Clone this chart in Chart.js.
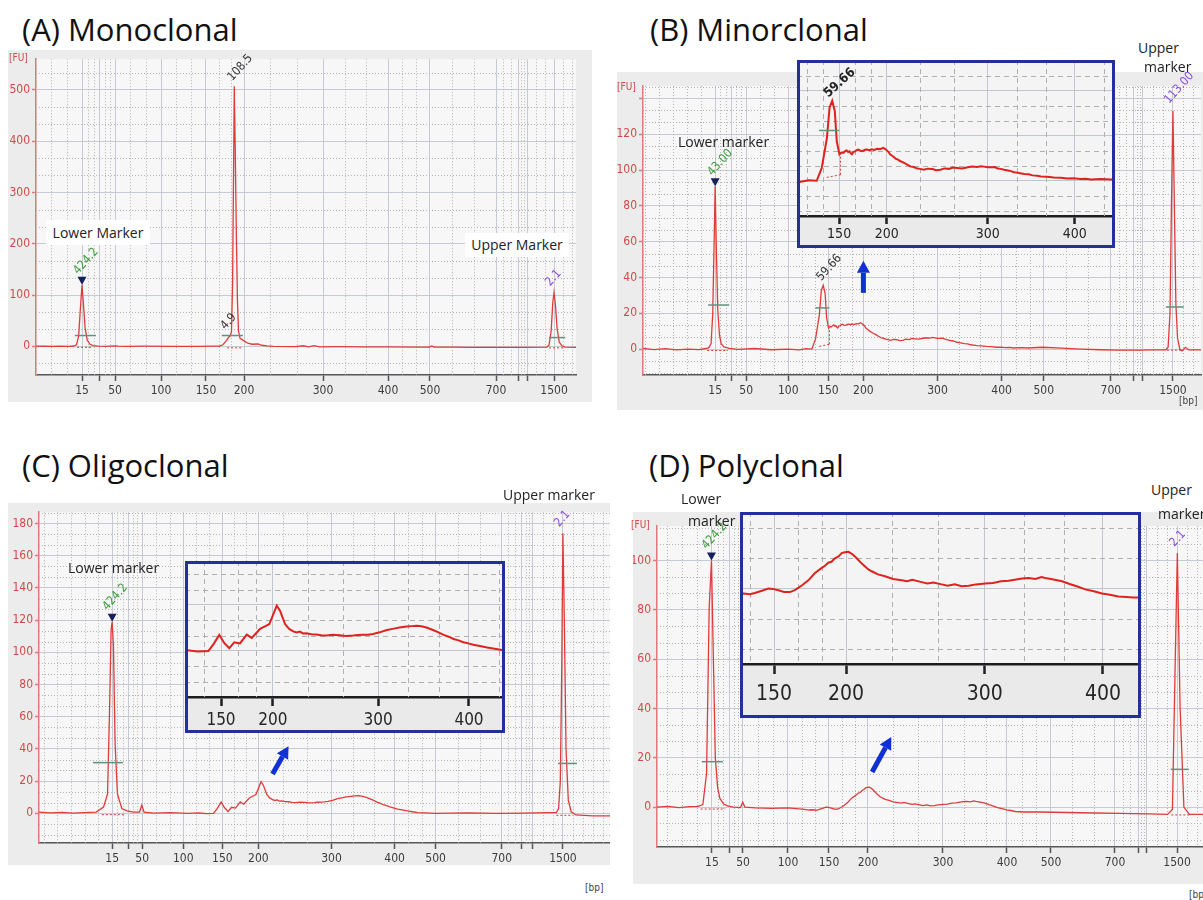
<!DOCTYPE html>
<html>
<head>
<meta charset="utf-8">
<script src="https://cdn.jsdelivr.net/npm/chart.js@4.4.1/dist/chart.umd.min.js"></script>
<style>
  body { margin: 0; background: #fff; width: 1203px; height: 900px; position: relative; overflow: hidden; font-family: 'Open Sans', sans-serif; }
  .frame { position: absolute; background: #ececec; }
  canvas { position: absolute; }
  .title { position: absolute; font-size: 31px; line-height: 31px; color: #111; white-space: nowrap; }
  .note { position: absolute; font-size: 14px; line-height: 16px; color: #222; white-space: nowrap; }
  .box { background: #fff; text-align: center; }
  .unit { position: absolute; font: 10px 'Liberation Sans Narrow', 'DejaVu Sans Condensed', sans-serif; line-height: 10px; white-space: nowrap; }
</style>
</head>
<body>
<div class="frame" style="left:8px;top:50px;width:584px;height:352px"></div>
<div class="frame" style="left:617px;top:72px;width:586px;height:338px"></div>
<div class="frame" style="left:8px;top:503px;width:602px;height:362px"></div>
<div class="frame" style="left:633px;top:512px;width:570px;height:372px"></div>

<canvas id="chartA" width="584" height="352" style="left:8px;top:50px"></canvas>
<canvas id="chartB" width="586" height="338" style="left:617px;top:72px"></canvas>
<canvas id="chartC" width="602" height="362" style="left:8px;top:503px"></canvas>
<canvas id="chartD" width="570" height="372" style="left:633px;top:512px"></canvas>
<canvas id="insetB" width="318" height="188" style="left:797px;top:60px"></canvas>
<canvas id="insetC" width="320" height="172" style="left:185px;top:561px"></canvas>
<canvas id="insetD" width="401" height="206" style="left:740px;top:512px"></canvas>

<div class="title" style="left:22px;top:14px">(A) Monoclonal</div>
<div class="title" style="left:650px;top:14px">(B) Minorclonal</div>
<div class="title" style="left:22px;top:450px">(C) Oligoclonal</div>
<div class="title" style="left:649px;top:450px">(D) Polyclonal</div>

<div class="note box" style="left:46px;top:220px;width:104px;line-height:25px">Lower Marker</div>
<div class="note box" style="left:465px;top:233px;width:104px;line-height:24px">Upper Marker</div>
<div class="note" style="left:678px;top:134px">Lower marker</div>
<div class="note" style="left:1138px;top:40px">Upper</div>
<div class="note" style="left:1144px;top:59px">marker</div>
<div class="note" style="left:68px;top:560px">Lower marker</div>
<div class="note" style="left:503px;top:487px">Upper marker</div>
<div class="note" style="left:681px;top:491px">Lower</div>
<div class="note" style="left:688px;top:513px">marker</div>
<div class="note" style="left:1151px;top:482px">Upper</div>
<div class="note" style="left:1158px;top:506px">marker</div>

<div class="unit" style="left:9px;top:53px;color:#d04a4a">[FU]</div>
<div class="unit" style="left:617px;top:82px;color:#d04a4a">[FU]</div>
<div class="unit" style="left:631px;top:520px;color:#d04a4a">[FU]</div>
<div class="unit" style="left:1179px;top:396px;color:#444">[bp]</div>
<div class="unit" style="left:585px;top:883px;color:#444">[bp]</div>
<div class="unit" style="left:1189px;top:890px;color:#444">[bp]</div>

<script>
// DNA 1000 ladder sizes and their migration times (s) in each run
const ladderBp = [15, 25, 50, 100, 150, 200, 300, 400, 500, 700, 850, 1000, 1500];
const hiddenBp = [25, 850, 1000];
const insetBp = [150, 200, 300, 400];
const ladderTimeA = [8.52, 11.85, 14.63, 23.15, 31.48, 38.52, 53.15, 65.19, 72.96, 85.19, 89.26, 90.93, 95.93];
const ladderTimeB = [12.93, 15.80, 18.49, 26.03, 33.21, 39.50, 52.78, 64.27, 71.81, 83.84, 87.97, 89.59, 94.97];
const ladderTimeC = [12.81, 15.61, 18.07, 25.26, 32.11, 38.42, 51.23, 62.28, 69.47, 81.05, 84.56, 86.49, 91.75];
const ladderTimeD = [10.07, 13.19, 15.75, 23.99, 31.50, 38.64, 52.38, 64.10, 72.16, 83.88, 88.10, 89.74, 95.24];

const fuTicksA = [0, 100, 200, 300, 400, 500];
const fuTicksB = [0, 20, 40, 60, 80, 100, 120, 140];
const fuTicksC = [0, 20, 40, 60, 80, 100, 120, 140, 160, 180];
const fuTicksD = [0, 20, 40, 60, 80, 100];

// traces: [time (s), fluorescence (FU)]
const traceA = [[0,0.5],[1.5,0.1],[3,-0.3],[4.5,0.4],[6,0],[7,0.6],[7.5,3],[7.9,20],[8.2,70],[8.52,120],[8.8,80],[9.1,35],[9.5,12],[10,4],[10.6,1.5],[11.5,0.5],[13,0],[14.6,1],[15.2,0.2],[17,0],[20,0.3],[25,-0.3],[30,0],[33,0.2],[34,0.4],[34.6,3],[35.2,10],[35.7,18],[35.95,20],[36.2,28],[36.4,120],[36.55,300],[36.72,507],[36.9,380],[37.1,220],[37.3,90],[37.5,30],[37.8,15],[38.2,13],[38.6,10],[39.2,6],[40,4],[41.1,4.5],[41.8,2],[42.8,0.8],[44,0],[48,-0.5],[49.5,1],[50.5,-1],[51.5,1.2],[52.5,-1],[56,-0.8],[60,-1],[65,-1.2],[70,-1.5],[72.9,-1.5],[73.3,0.5],[73.7,-1.5],[77.5,-1.8],[80,-2],[85,-2],[90,-2],[94.6,-1.5],[95,2],[95.4,30],[95.7,85],[95.93,105],[96.2,80],[96.5,35],[96.9,8],[97.4,1],[98,-1.5],[100,-2]];

const traceB = [[0,0.4],[2,-0.3],[4,0.2],[6,-0.5],[8,0],[10,-0.3],[11.3,0.3],[11.8,0.8],[12.2,3],[12.5,20],[12.75,60],[12.93,91],[13.15,55],[13.4,22],[13.7,8],[14,3],[14.5,1.2],[15.5,0.4],[17,-0.2],[20,0.3],[23,-0.4],[26,0],[28,-0.5],[29.2,0.2],[30.26,0],[30.92,5.7],[31.6,19],[31.95,32.6],[32.3,35.6],[32.64,31],[32.9,17.6],[33.25,11.7],[33.5,12.6],[33.78,12.4],[34,13.2],[34.2,13.5],[34.4,12.8],[34.57,13.1],[34.75,12.2],[34.9,11.8],[35.1,12.9],[35.3,13],[35.5,13.6],[35.76,13.9],[36,13.4],[36.3,13.2],[36.6,13.8],[36.87,13.9],[37.2,13.6],[37.5,14],[37.85,13.7],[38.2,14.2],[38.6,14.1],[39,14.7],[39.2,14.3],[39.4,13.8],[39.7,12.9],[39.95,11.7],[40.3,10.9],[40.6,10],[40.95,9.4],[41.3,8.7],[41.65,8.2],[42,7.5],[42.3,7],[42.6,6.4],[43,6.1],[43.5,5.5],[43.9,5.3],[44.35,4.9],[44.9,5.4],[45.5,5.2],[46,4.7],[46.56,4.9],[47.1,5.5],[47.7,5.3],[48.2,5.9],[48.77,5.7],[49.4,5.5],[50,5.9],[50.7,6.3],[51.4,6.1],[51.9,6.5],[52.3,6.3],[52.8,6],[53.2,6],[53.7,6.1],[54.1,5.5],[54.5,5.3],[54.95,4.9],[55.6,4.5],[56.3,3.8],[56.9,3.5],[57.6,3],[58.2,2.9],[58.7,2.4],[59.3,2.2],[59.8,1.9],[60.6,1.8],[61.5,1.5],[62.4,1.3],[63.3,1],[64.1,1.1],[65,0.8],[65.7,0.9],[66.4,0.6],[67.7,0.8],[69,0.6],[71.6,1],[75,0.5],[78.6,0],[82,-0.4],[85,-0.6],[88.9,-0.6],[92,-0.5],[93.7,-0.4],[94.1,1],[94.45,20],[94.7,80],[94.97,133],[95.25,75],[95.5,25],[95.8,6],[96.2,0],[96.6,-1],[97.2,1],[97.8,-0.5],[100,-0.5]];

const traceC = [[0,0.8],[2,0.3],[4,0.6],[6,0.2],[8,0.5],[10,0.8],[11.3,3.9],[12,12],[12.35,63],[12.63,114],[12.81,119],[13.04,104],[13.33,43],[13.74,12],[14.5,3],[15.4,1.5],[16.5,0.8],[17.6,0.8],[18,5],[18.4,0.8],[20,0.2],[23,0.5],[26,0],[28,0.3],[29.3,-0.2],[30.57,0],[31.2,3],[31.9,7],[32.5,3.5],[33.12,1.2],[33.73,3.8],[34.42,3.3],[35.24,7.1],[35.85,5.7],[36.4,7.8],[36.86,9.6],[37.4,10.6],[37.99,11.7],[38.48,16],[38.89,19.7],[39.29,17.5],[39.9,11.7],[40.4,9.6],[40.9,8.5],[41.3,8],[41.7,8.4],[42.1,7.6],[42.5,7.7],[43.1,7.3],[43.7,7.2],[44.3,6.8],[44.95,6.7],[45.7,7],[46.5,6.8],[47.3,6.5],[48.2,6.7],[48.8,6.9],[49.4,7],[50,7.1],[50.6,7.4],[51.4,8.1],[52.3,9.1],[53,9.6],[53.8,10.2],[54.7,10.6],[55.3,10.8],[55.9,11],[56.5,10.7],[57.2,10.1],[57.9,9.1],[58.5,8.2],[59.2,7],[59.8,6.2],[60.4,5.2],[61,4.6],[61.6,3.8],[62.2,3.3],[62.8,2.7],[63.6,2.2],[64.5,1.5],[65.4,1],[66.3,0.4],[69.6,0],[75,0.3],[80,0],[85,0.2],[89,0.4],[90.6,0.5],[91,3],[91.3,20],[91.55,90],[91.75,174],[92,120],[92.3,40],[92.7,8],[93.2,1],[94,-1],[97,-1.5],[100,-1.5]];

const traceD = [[0,0],[2,0.3],[4,-0.2],[6,0.2],[7.5,0.3],[8.4,1],[9.08,13.7],[9.56,81],[9.98,100],[10.26,67.7],[10.68,20],[11.1,8],[11.5,3.6],[12.2,1.2],[12.9,0.5],[14,0],[15.3,-0.2],[15.7,2],[16.1,0],[18,-0.3],[21,-0.5],[24,-0.3],[27,-0.9],[27.8,-1.2],[28.5,-1.1],[29.1,-1.3],[29.6,-1],[30.3,-0.5],[30.94,0],[31.4,-0.1],[31.93,-0.4],[32.5,-0.8],[33.09,-0.8],[33.6,-0.3],[34.25,0.65],[34.9,1.8],[35.56,3.4],[36.2,4.5],[36.55,5],[36.88,5.7],[37.2,5.9],[37.5,6.6],[37.9,7.1],[38.21,7.8],[38.5,8],[38.86,8.1],[39.1,7.8],[39.3,7.5],[39.6,6.9],[39.86,6.3],[40.2,5.5],[40.5,4.9],[40.85,4.2],[41.18,3.8],[41.8,3.1],[42.5,2.7],[43.3,2.1],[44.15,1.8],[44.7,1.6],[45.2,1.9],[46.14,1.4],[46.7,1.1],[47.3,1.3],[48.12,0.9],[48.7,0.6],[49.4,0.9],[50.1,0.5],[50.8,0.6],[51.5,0.9],[52.44,1.1],[53.2,1.2],[54,1.6],[54.75,1.7],[55.5,2],[56.1,2.2],[56.73,2.3],[57.4,2.1],[58,2.5],[58.39,2.3],[59.2,2],[60.04,1.6],[60.8,1],[61.5,0.5],[62.35,-0.2],[63.2,-0.6],[64,-1.1],[64.8,-1.4],[65.62,-1.8],[66.4,-1.9],[67.1,-2],[70,-2],[75,-2.2],[80,-2.4],[85,-2.6],[90,-2.8],[93.5,-3],[94.4,-1],[94.87,54],[95.3,103],[95.8,40.7],[96.5,0],[97.5,-3],[100,-3]];

const narrow = "'Liberation Sans Narrow', 'DejaVu Sans Condensed', 'Arial Narrow', sans-serif";
Chart.defaults.font.family = narrow;

function arrow(ctx, x0, y0, x1, y1) {
  const ang = Math.atan2(y1 - y0, x1 - x0), head = 12, half = 6.5;
  const bx = x1 - head * Math.cos(ang), by = y1 - head * Math.sin(ang);
  ctx.strokeStyle = ctx.fillStyle = '#1030d4';
  ctx.lineWidth = 5;
  ctx.beginPath(); ctx.moveTo(x0, y0); ctx.lineTo(bx, by); ctx.stroke();
  ctx.beginPath(); ctx.moveTo(x1, y1);
  ctx.lineTo(bx + half * Math.sin(ang), by - half * Math.cos(ang));
  ctx.lineTo(bx - half * Math.sin(ang), by + half * Math.cos(ang));
  ctx.closePath(); ctx.fill();
}

// background, dotted minor grid and the instrument's peak annotations
function makeDecor(d) {
  return {
    id: 'decor',
    beforeDraw(chart) {
      const { ctx, chartArea: a, width, height } = chart;
      ctx.save();
      if (d.band) { ctx.fillStyle = d.band; ctx.fillRect(0, a.bottom, width, height - a.bottom); }
      ctx.fillStyle = d.plotBg;
      ctx.fillRect(a.left, a.top, a.right - a.left, a.bottom - a.top);
      ctx.restore();
    },
    beforeDatasetsDraw(chart) {
      const { ctx, chartArea: a, scales: { x, y } } = chart;
      const tv = x.ticks.map(t => t.value);
      const xs = [];
      for (let i = 0; i < tv.length - 1; i++) {
        const g = (tv[i + 1] - tv[i]) / 3;
        xs.push(tv[i] + g, tv[i] + 2 * g);
      }
      const gl = (tv[d.leftGap + 1] - tv[d.leftGap]) / 3;
      for (let v = tv[0] - gl; v > x.min; v -= gl) xs.push(v);
      const gr = (tv[tv.length - 1] - tv[tv.length - 2]) / 3;
      for (let v = tv[tv.length - 1] + gr; v < x.max; v += gr) xs.push(v);
      ctx.save();
      ctx.beginPath(); ctx.rect(a.left, a.top, a.right - a.left, a.bottom - a.top); ctx.clip();
      ctx.strokeStyle = d.minorColor; ctx.lineWidth = 1; ctx.setLineDash(d.minorDash);
      xs.forEach(v => {
        const px = Math.round(x.getPixelForValue(v)) + 0.5;
        ctx.beginPath(); ctx.moveTo(px, a.top); ctx.lineTo(px, a.bottom); ctx.stroke();
      });
      const step = d.fuStep / 3;
      for (let k = Math.ceil(y.min / step); k * step <= y.max; k++) {
        if (k % 3 === 0) continue;
        const py = Math.round(y.getPixelForValue(k * step)) + 0.5;
        ctx.beginPath(); ctx.moveTo(a.left, py); ctx.lineTo(a.right, py); ctx.stroke();
      }
      ctx.restore();
    },
    afterDatasetsDraw(chart) {
      const { ctx, scales: { x, y } } = chart;
      const X = v => x.getPixelForValue(v), Y = v => y.getPixelForValue(v);
      ctx.save();
      ctx.strokeStyle = '#d23c3c'; ctx.lineWidth = 1; ctx.setLineDash([2, 2]);
      (d.dots || []).forEach(s => {
        ctx.beginPath(); ctx.moveTo(X(s[0]), Y(s[1])); ctx.lineTo(X(s[2]), Y(s[3])); ctx.stroke();
      });
      ctx.setLineDash([]);
      ctx.strokeStyle = '#5f927f'; ctx.lineWidth = 1.5;
      (d.bars || []).forEach(b => {
        ctx.beginPath(); ctx.moveTo(X(b[0]), Y(b[2])); ctx.lineTo(X(b[1]), Y(b[2])); ctx.stroke();
      });
      ctx.fillStyle = '#16205c';
      (d.tris || []).forEach(t => {
        const px = X(t[0]), py = Y(t[1]);
        ctx.beginPath(); ctx.moveTo(px, py); ctx.lineTo(px - 4.5, py - 8); ctx.lineTo(px + 4.5, py - 8); ctx.closePath(); ctx.fill();
      });
      (d.labels || []).forEach(l => {
        ctx.save();
        ctx.translate(X(l.at[0]) + l.off[0], Y(l.at[1]) + l.off[1]);
        ctx.rotate(-(l.angle || 48) * Math.PI / 180);
        ctx.fillStyle = l.color;
        ctx.font = (l.weight || 'normal') + ' ' + (l.size || 12) + 'px ' + narrow;
        ctx.fillText(l.text, 0, 0);
        ctx.restore();
      });
      (d.arrows || []).forEach(r => arrow(ctx, X(r[0]), Y(r[1]), X(r[2]), Y(r[3])));
      ctx.restore();
    },
    afterDraw(chart) {
      if (!d.border) return;
      const { ctx, width, height } = chart;
      ctx.save();
      ctx.strokeStyle = d.border; ctx.lineWidth = 3;
      ctx.strokeRect(1.5, 1.5, width - 3, height - 3);
      ctx.restore();
    }
  };
}

function mainChart(id, o) {
  const labelFor = i => hiddenBp.includes(ladderBp[i]) ? '' : String(ladderBp[i]);
  return new Chart(document.getElementById(id), {
    type: 'line',
    data: { datasets: [{ data: o.trace.map(p => ({ x: p[0], y: p[1] })), borderColor: '#e03b3b', borderWidth: 1.3, pointRadius: 0, tension: 0 }] },
    options: {
      responsive: false, animation: false, events: [],
      layout: { padding: { left: 0, top: o.top, right: o.right, bottom: 0 } },
      plugins: { legend: { display: false }, tooltip: { enabled: false } },
      scales: {
        x: {
          type: 'linear', min: 0, max: 100,
          afterBuildTicks: s => { s.ticks = o.ladder.map(v => ({ value: v })); },
          afterFit: s => { s.height = o.xh; },
          ticks: { autoSkip: false, maxRotation: 0, padding: 3, color: '#3c3c3c', font: { size: 12 }, callback: (v, i) => labelFor(i) },
          grid: { color: '#c6cbd3', tickLength: 6, tickColor: '#555', tickWidth: 1.5 },
          border: { color: '#555', width: 1.5 }
        },
        y: {
          type: 'linear', min: o.ymin, max: o.ymax,
          afterBuildTicks: s => { s.ticks = o.yticks.map(v => ({ value: v })); },
          afterFit: s => { s.width = o.yw; },
          ticks: { padding: 2, color: '#d04a4a', font: { size: 12 }, callback: v => (o.yhide || []).includes(v) ? '' : v },
          grid: { color: '#c6cbd3', tickLength: 4, tickColor: '#e07a7a', tickWidth: 1.5 },
          border: { color: '#e07a7a', width: 1.5 }
        }
      }
    },
    plugins: [makeDecor(Object.assign({ plotBg: '#f7f7f7', minorColor: '#b4b4b4', minorDash: [1, 2], leftGap: 2 }, o.decor))]
  });
}

function insetChart(id, o) {
  const times = insetBp.map(bp => o.ladder[ladderBp.indexOf(bp)]);
  return new Chart(document.getElementById(id), {
    type: 'line',
    data: { datasets: [{ data: o.trace.map(p => ({ x: p[0], y: p[1] })), borderColor: '#e0221e', borderWidth: 2, pointRadius: 0, tension: 0 }] },
    options: {
      responsive: false, animation: false, events: [],
      layout: { padding: 0 },
      plugins: { legend: { display: false }, tooltip: { enabled: false } },
      scales: {
        x: {
          type: 'linear', min: o.xmin, max: o.xmax,
          afterBuildTicks: s => { s.ticks = times.map(v => ({ value: v })); },
          afterFit: s => { s.height = o.xh; },
          ticks: { autoSkip: false, maxRotation: 0, padding: o.tpad, color: '#262626', font: { size: o.fs }, callback: (v, i) => String(insetBp[i]) },
          grid: { color: '#c0c5ce', tickLength: o.tl, tickColor: '#1e1e1e', tickWidth: 2.5 },
          border: { color: '#1e1e1e', width: 2.5 }
        },
        y: {
          type: 'linear', min: o.ymin, max: o.ymax,
          afterBuildTicks: s => { s.ticks = o.yticks.map(v => ({ value: v })); },
          afterFit: s => { s.width = 0; },
          ticks: { display: false },
          grid: { color: '#c0c5ce', drawTicks: false },
          border: { display: false }
        }
      }
    },
    plugins: [makeDecor(Object.assign({ plotBg: '#f4f4f4', band: '#eaeaea', minorColor: '#b0b0b0', minorDash: [5, 4], leftGap: 0, border: '#23309c' }, o.decor))]
  });
}

const green = '#3a9a3a', purple = '#8a4ae0', dark = '#333';

mainChart('chartA', {
  trace: traceA, ladder: ladderTimeA, yticks: fuTicksA, ymin: -56, ymax: 560,
  top: 8, right: 16, xh: 27, yw: 28,
  decor: {
    fuStep: 100,
    bars: [[7.2, 11.1, 21], [34.4, 38.3, 21], [95.0, 98.0, 17]],
    dots: [[7.6, -2, 10.6, -2], [35.4, -3, 38.0, -3], [95.0, -3, 97.6, -3]],
    tris: [[8.52, 120]],
    labels: [
      { text: '424.2', at: [8.52, 120], off: [-4, -10], color: green },
      { text: '108.5', at: [36.72, 507], off: [-2, -5], color: dark },
      { text: '4.9', at: [35.95, 20], off: [-5, -6], color: dark },
      { text: '2.1', at: [95.93, 105], off: [-4, -6], color: purple }
    ]
  }
});

mainChart('chartB', {
  trace: traceB, ladder: ladderTimeB, yticks: fuTicksB, yhide: [140], ymin: -14.5, ymax: 147,
  top: 14, right: 2, xh: 35, yw: 26,
  decor: {
    fuStep: 20,
    bars: [[11.67, 15.44, 24.6], [30.9, 33.4, 23], [93.7, 96.9, 23.5]],
    dots: [[11.5, -0.8, 15.2, -0.8], [31.6, 1.5, 33.4, 2.7], [33.4, 2.7, 33.4, 11.7], [93.9, -0.6, 96.5, -0.6]],
    tris: [[12.93, 91]],
    labels: [
      { text: '43.00', at: [12.93, 91], off: [-3, -10], color: green },
      { text: '59.66', at: [32.3, 35.6], off: [-2, -4], color: dark },
      { text: '113.00', at: [94.97, 133], off: [-4, -7], color: purple }
    ],
    arrows: [[39.5, 31.4, 39.5, 49.3]]
  }
});

mainChart('chartC', {
  trace: traceC, ladder: ladderTimeC, yticks: fuTicksC, ymin: -18.4, ymax: 187,
  top: 5, right: 0, xh: 22, yw: 31,
  decor: {
    fuStep: 20,
    bars: [[9.47, 14.7, 31.5], [90.9, 94.2, 31]],
    dots: [[11, -0.8, 15, -0.8], [90.6, -1.2, 93.5, -1.2]],
    tris: [[12.81, 119]],
    labels: [
      { text: '424.2', at: [12.81, 119], off: [-5, -11], color: green },
      { text: '2.1', at: [91.75, 174], off: [-4, -6], color: purple }
    ],
    arrows: [[40.9, 24.5, 43.7, 41.7]]
  }
});

mainChart('chartD', {
  trace: traceD, ladder: ladderTimeD, yticks: fuTicksD, ymin: -16.2, ymax: 114,
  top: 14, right: 0, xh: 37, yw: 24,
  decor: {
    fuStep: 20,
    bars: [[8.19, 12.07, 18.4], [94.07, 97.4, 15.3]],
    dots: [[8, -0.8, 12.5, -0.8], [94.2, -3.2, 97.5, -3.2]],
    tris: [[9.98, 100]],
    labels: [
      { text: '424.2', at: [9.98, 100], off: [-5, -11], color: green },
      { text: '2.1', at: [95.3, 103], off: [-3, -6], color: purple }
    ],
    arrows: [[39.4, 14.2, 42.9, 28.4]]
  }
});

insetChart('insetB', {
  trace: traceB, ladder: ladderTimeB, xmin: 27.66, xmax: 69.56, ymin: -15.7, ymax: 53.8, yticks: [0, 20, 40],
  xh: 32, tl: 8, tpad: 2, fs: 14,
  decor: {
    fuStep: 20,
    bars: [[30.57, 33.21, 22.4]],
    dots: [[31.6, 1.5, 33.4, 2.7], [33.4, 2.7, 33.4, 11.7]],
    labels: [{ text: '59.66', at: [32.3, 35.6], off: [-4, -3], color: '#222', size: 13, weight: 'bold', angle: 42 }]
  }
});

insetChart('insetC', {
  trace: traceC, ladder: ladderTimeC, xmin: 27.73, xmax: 66.66, ymin: -20, ymax: 39.1, yticks: [0, 20],
  xh: 36, tl: 9, tpad: 4, fs: 17,
  decor: { fuStep: 20 }
});

insetChart('insetD', {
  trace: traceD, ladder: ladderTimeD, xmin: 28.13, xmax: 67.87, ymin: -16.7, ymax: 16.9, yticks: [0],
  xh: 54, tl: 10, tpad: 8, fs: 21,
  decor: { fuStep: 20 }
});
</script>
</body>
</html>
